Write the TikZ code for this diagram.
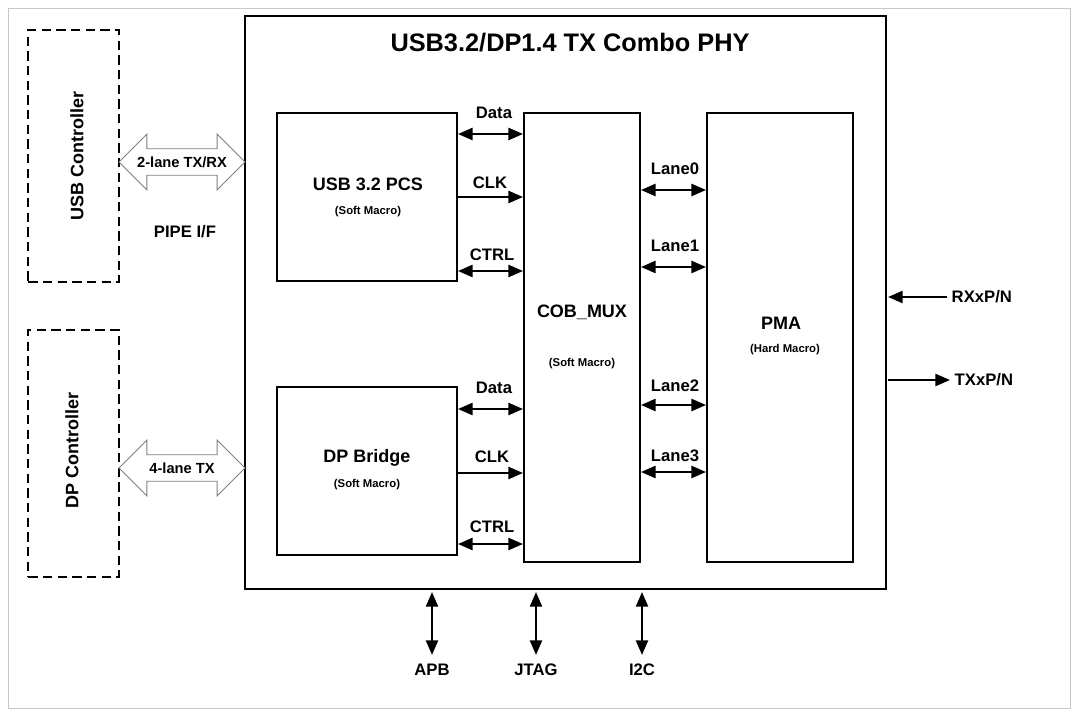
\documentclass[tikz,border=0pt]{standalone}
\usepackage{fontspec}
\setmainfont{Liberation Sans}
\usetikzlibrary{shapes.arrows,arrows.meta}

\tikzset{
  blk/.style={draw,line width=1.4pt,minimum width=#1,inner sep=0pt},
  ctrlbox/.style={draw,line width=1.2pt,dash pattern=on 7pt off 4pt,minimum width=68pt,inner sep=0pt},
  lbl/.style={font=\bfseries\fontsize{12.5}{14}\selectfont},
  big/.style={font=\bfseries\fontsize{13.5}{16}\selectfont},
  sm/.style={font=\bfseries\fontsize{8.5}{10}\selectfont},
  sig/.style={line width=1.8pt,-{Triangle[length=11pt,width=9pt]}},
  bsig/.style={line width=1.8pt,{Triangle[length=11pt,width=9pt]}-{Triangle[length=11pt,width=9pt]}},
  fat/.style={double arrow,draw=gray,fill=white,line width=0.6pt,minimum height=94.5pt,double arrow head extend=11pt,inner xsep=0pt,inner ysep=5.5pt,font=\bfseries\fontsize{11}{12}\selectfont}
}

\begin{document}
\begin{tikzpicture}[x=0.75pt,y=0.75pt,yscale=-1,xscale=1]
	\useasboundingbox (0,0) rectangle (1079,717);
	\draw [color={rgb, 255:red, 200; green, 200; blue, 200 }] (8,8) rectangle (1070,708);
	
	%controllers
	\node [ctrlbox,minimum height=189pt] (usbc) at (73.5,156) {};
	\node [ctrlbox,minimum height=185.25pt] (dpc) at (73.5,453.5) {};
	\node [big,rotate=90] (usbct) at (77,156) {USB Controller};
	\node [big,rotate=90] (dpct) at (72,450) {DP Controller};
	
	%phy
	\draw [line width=2.2pt] (245,16) rectangle (886,589);
	\node [font=\bfseries\fontsize{19}{22}\selectfont] (title) at (570,43) {USB3.2/DP1.4 TX Combo PHY};
	
	\node [blk=135pt,minimum height=126pt] (pcs) at (367,197) {};
	\node [blk=135pt,minimum height=126pt] (dpb) at (367,471) {};
	\node [blk=87pt,minimum height=336.75pt] (mux) at (582,337.5) {};
	\node [blk=109.5pt,minimum height=336.75pt] (pma) at (780,337.5) {};
	
	\node [big] at (368,184) {USB 3.2 PCS};
	\node [sm] at (368,212) {(Soft Macro)};
	\node [big] at (367,458) {DP Bridge};
	\node [sm] at (367,485) {(Soft Macro)};
	\node [big] at (582,312) {COB\_MUX};
	\node [sm] at (582,364) {(Soft Macro)};
	\node [big] at (781,323) {PMA};
	\node [sm] at (785,350) {(Hard Macro)};
	
	%fat arrows
	\node [fat] (usbif) at (182,162) {2-lane TX/RX};
	\node [fat] (dpif) at (182,468) {4-lane TX\vphantom{/}};
	\node [lbl] (pipe) at (185,232) {PIPE I/F};
	
	%pcs / bridge to mux
	\node [lbl] (d1) at (494,113) {Data};
	\node [lbl] (c1) at (490,183) {CLK};
	\node [lbl] (t1) at (492,255) {CTRL};
	\node [lbl] (d2) at (494,388) {Data};
	\node [lbl] (c2) at (492,457) {CLK};
	\node [lbl] (t2) at (492,527) {CTRL};
	\draw [bsig] (pcs.east |- 0,134) -- (mux.west |- 0,134);
	\draw [sig] (pcs.east |- 0,197) -- (mux.west |- 0,197);
	\draw [bsig] (pcs.east |- 0,271) -- (mux.west |- 0,271);
	\draw [bsig] (dpb.east |- 0,409) -- (mux.west |- 0,409);
	\draw [sig] (dpb.east |- 0,473) -- (mux.west |- 0,473);
	\draw [bsig] (dpb.east |- 0,544) -- (mux.west |- 0,544);
	
	%lanes
	\node [lbl] (l0) at (675,169) {Lane0};
	\node [lbl] (l1) at (675,246) {Lane1};
	\node [lbl] (l2) at (675,386) {Lane2};
	\node [lbl] (l3) at (675,456) {Lane3};
	\draw [bsig] (mux.east |- 0,190) -- (pma.west |- 0,190);
	\draw [bsig] (mux.east |- 0,267) -- (pma.west |- 0,267);
	\draw [bsig] (mux.east |- 0,405) -- (pma.west |- 0,405);
	\draw [bsig] (mux.east |- 0,472) -- (pma.west |- 0,472);
	
	%serial
	\node [lbl,anchor=west] (rx) at (947,297) {RXxP/N};
	\node [lbl,anchor=west] (tx) at (950,380) {TXxP/N};
	\draw [sig] (rx.west) -- (888,297);
	\draw [sig] (888,380) -- (tx.west);
	
	%config
	\node [lbl] (apb) at (432,670) {APB};
	\node [lbl] (jtag) at (536,670) {JTAG};
	\node [lbl] (i2c) at (642,670) {I2C};
	\draw [bsig] (apb.north |- 0,592) -- (apb.north |- 0,655);
	\draw [bsig] (jtag.north |- 0,592) -- (jtag.north |- 0,655);
	\draw [bsig] (i2c.north |- 0,592) -- (i2c.north |- 0,655);
\end{tikzpicture}
\end{document}
